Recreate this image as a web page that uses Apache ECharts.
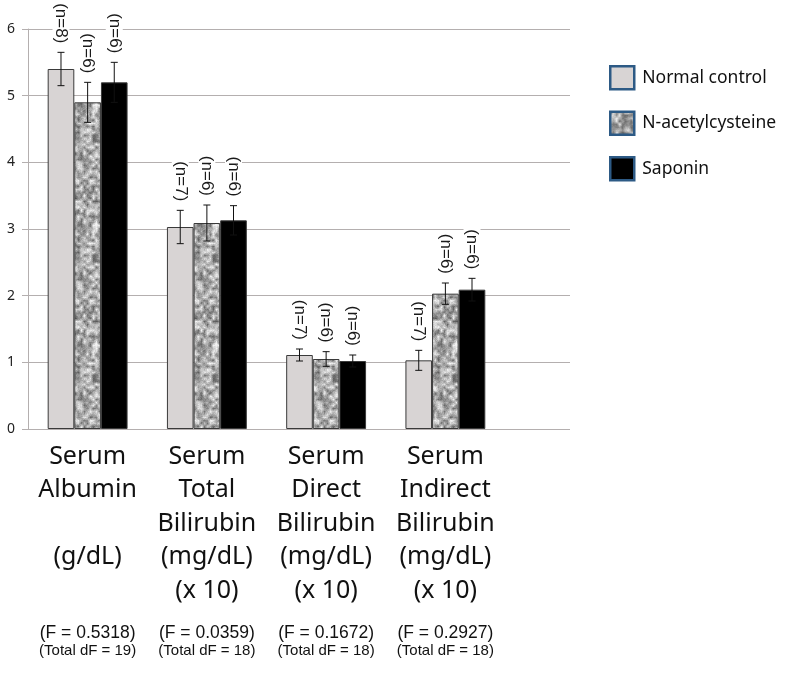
<!DOCTYPE html>
<html>
<head>
<meta charset="utf-8">
<script src="https://cdn.jsdelivr.net/npm/echarts@6/dist/echarts.min.js"></script>
<style>html,body{margin:0;padding:0;background:#fff}#c{width:800px;height:673px}</style>
</head>
<body>
<div id="c"></div>
<script>
// ---- data ----
var categories = [
  'Serum\nAlbumin\n \n(g/dL)\n ',
  'Serum\nTotal\nBilirubin\n(mg/dL)\n(x 10)',
  'Serum\nDirect\nBilirubin\n(mg/dL)\n(x 10)',
  'Serum\nIndirect\nBilirubin\n(mg/dL)\n(x 10)'
];
var fValues = ['0.5318', '0.0359', '0.1672', '0.2927'];
var totalDF = ['19', '18', '18', '18'];
var seriesNames = ['Normal control', 'N-acetylcysteine', 'Saponin'];
var normalMean = [5.40, 3.03, 1.11, 1.03];
var normalErr  = [0.25, 0.25, 0.09, 0.15];
var normalN    = [8, 7, 7, 7];
var nacMean = [4.90, 3.09, 1.05, 2.03];
var nacErr  = [0.30, 0.27, 0.11, 0.16];
var nacN    = [6, 6, 6, 6];
var sapMean = [5.20, 3.13, 1.02, 2.09];
var sapErr  = [0.30, 0.22, 0.09, 0.17];
var sapN    = [6, 6, 6, 6];
var yTicks = [0, 1, 2, 3, 4, 5, 6];

// ---- speckled texture for N-acetylcysteine ----
function makeNoise() {
  var W = 120;
  var cv = document.createElement('canvas');
  cv.width = W; cv.height = W;
  var ctx = cv.getContext('2d');
  var s = 987654;
  function rnd() { s = (s * 1103515245 + 12345) % 2147483648; return s / 2147483648; }
  var G = 40, cell = W / G;
  var coarse = [];
  for (var i = 0; i < G * G; i++) coarse.push(rnd());
  function cg(x, y) { return coarse[((y + G) % G) * G + ((x + G) % G)]; }
  var img = ctx.createImageData(W, W);
  for (var y = 0; y < W; y++) {
    for (var x = 0; x < W; x++) {
      var fx = x / cell, fy = y / cell;
      var x0 = Math.floor(fx), y0 = Math.floor(fy);
      var tx = fx - x0, ty = fy - y0;
      var a = cg(x0, y0) * (1 - tx) + cg(x0 + 1, y0) * tx;
      var b = cg(x0, y0 + 1) * (1 - tx) + cg(x0 + 1, y0 + 1) * tx;
      var c = a * (1 - ty) + b * ty;
      var v = 100 + c * 145 + (rnd() - 0.5) * 30;
      v = Math.max(70, Math.min(245, v));
      var k = (y * W + x) * 4;
      img.data[k] = v; img.data[k + 1] = v; img.data[k + 2] = v; img.data[k + 3] = 255;
    }
  }
  ctx.putImageData(img, 0, 0);
  return cv;
}
var noiseCanvas = makeNoise();

var colors = ['#d8d4d4', { image: noiseCanvas, repeat: 'repeat' }, '#000000'];
var means = [normalMean, nacMean, sapMean];
var errs = [normalErr, nacErr, sapErr];
var ns = [normalN, nacN, sapN];

var chart = echarts.init(document.getElementById('c'), null, { renderer: 'canvas' });

var gridColor = '#b4afaf';
var series = [];
for (var k = 0; k < 3; k++) {
  series.push({
    name: seriesNames[k],
    type: 'bar',
    xAxisIndex: 1, yAxisIndex: 1,
    barGap: '0%',
    barCategoryGap: '33%',
    data: means[k],
    itemStyle: { color: colors[k], borderColor: '#3a3a3a', borderWidth: 1 },
    emphasis: { disabled: true },
    z: 2
  });
}
for (var k2 = 0; k2 < 3; k2++) {
  (function (k) {
    var d = [];
    for (var i = 0; i < categories.length; i++) d.push([i, means[k][i], errs[k][i], ns[k][i]]);
    series.push({
      type: 'custom',
      xAxisIndex: 1, yAxisIndex: 1,
      data: d,
      z: 5,
      silent: true,
      renderItem: function (params, api) {
        var ci = api.value(0), m = api.value(1), e = api.value(2), n = api.value(3);
        var band = api.size([1, 0])[0];
        var bw = band * 0.67 / 3;
        var c0 = api.coord([ci, m]);
        var cx = c0[0] + (k - 1) * bw;
        var top = api.coord([ci, m + e])[1];
        var bot = api.coord([ci, m - e])[1];
        var cap = 3.5;
        var st = { stroke: '#111', lineWidth: 1 };
        return {
          type: 'group',
          children: [
            { type: 'line', shape: { x1: cx, y1: top, x2: cx, y2: bot }, style: st },
            { type: 'line', shape: { x1: cx - cap, y1: top, x2: cx + cap, y2: top }, style: st },
            { type: 'line', shape: { x1: cx - cap, y1: bot, x2: cx + cap, y2: bot }, style: st },
            {
              type: 'text', x: cx, y: top - 8, rotation: -Math.PI / 2,
              style: {
                text: '(n=' + n + ')', align: 'right', verticalAlign: 'middle',
                font: '17px "Liberation Sans", Arial, sans-serif', fill: '#1a1a1a',
                backgroundColor: '#fff', padding: [0, 1, 0, 1]
              }
            }
          ]
        };
      }
    });
  })(k2);
}

var option = {
  animation: false,
  backgroundColor: '#ffffff',
  legend: {
    orient: 'vertical',
    left: 604, top: 60,
    itemWidth: 24, itemHeight: 23, itemGap: 20,
    icon: 'rect',
    data: seriesNames,
    itemStyle: { borderColor: '#2d5a85', borderWidth: 2.5 },
    textStyle: { fontFamily: 'Noto Sans', fontSize: 17.5, color: '#111', padding: [0, 0, 0, 3] },
    selectedMode: false
  },
  grid: [
    { left: 28, right: 230, top: 29, bottom: 244 },
    { left: 28, right: 295, top: 29, bottom: 244 }
  ],
  xAxis: [
    { gridIndex: 0, type: 'value', show: false, min: 0, max: 1 },
    {
      gridIndex: 1, type: 'category', data: categories,
      axisLine: { show: false }, axisTick: { show: false },
      axisLabel: {
        interval: 0, margin: 11,
        fontFamily: 'Noto Sans', fontSize: 25, lineHeight: 33.5, color: '#111',
        formatter: function (v, i) {
          return v + '\n{sp| }\n{f|(F = ' + fValues[i] + ')}\n{d|(Total dF = ' + totalDF[i] + ')}';
        },
        rich: {
          sp: { fontSize: 10, lineHeight: 17 },
          f: { fontFamily: 'Liberation Sans, Arial', fontSize: 17.5, lineHeight: 18, color: '#111' },
          d: { fontFamily: 'Liberation Sans, Arial', fontSize: 15, lineHeight: 16, color: '#111' }
        }
      }
    }
  ],
  yAxis: [
    {
      gridIndex: 0, type: 'value', min: yTicks[0], max: yTicks[yTicks.length - 1], interval: 1,
      axisLine: { show: true, lineStyle: { color: gridColor, width: 1 } },
      axisTick: { show: true, length: 6, lineStyle: { color: gridColor } },
      splitLine: { show: true, lineStyle: { color: gridColor, width: 1 } },
      axisLabel: { margin: 13, fontFamily: 'Noto Sans', fontSize: 14, color: '#222' }
    },
    { gridIndex: 1, type: 'value', min: 0, max: 6, show: false, splitLine: { show: false } }
  ],
  series: series
};
chart.setOption(option);
</script>
</body>
</html>
